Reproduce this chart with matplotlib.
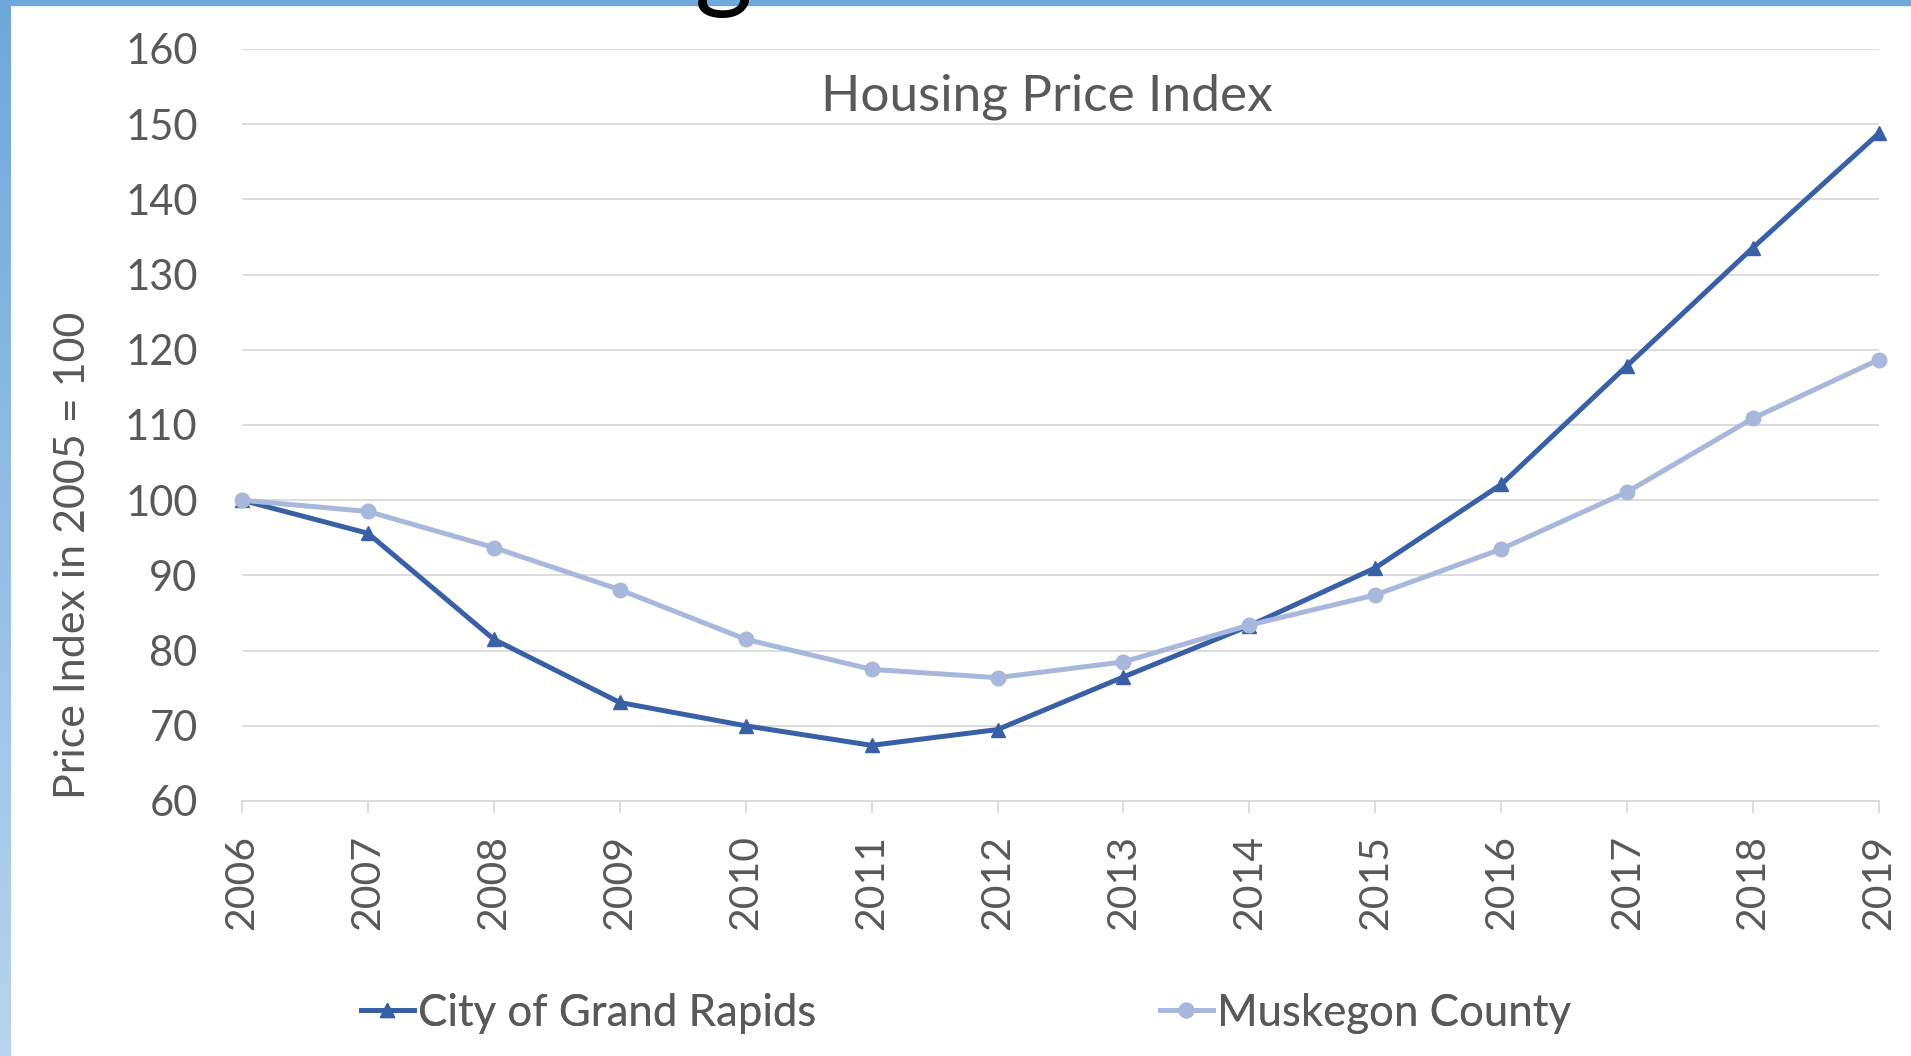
import matplotlib
matplotlib.use("Agg")
import matplotlib.pyplot as plt
import numpy as np

plt.rcParams['font.family'] = ['Lato', 'DejaVu Sans']

years = [2006, 2007, 2008, 2009, 2010, 2011, 2012, 2013, 2014, 2015, 2016, 2017, 2018, 2019]
grand_rapids = [100.0, 95.6, 81.5, 73.1, 70.0, 67.4, 69.5, 76.5, 83.3, 91.0, 102.1, 117.9, 133.6, 148.8]
muskegon = [100.0, 98.5, 93.7, 88.1, 81.5, 77.5, 76.4, 78.5, 83.4, 87.4, 93.5, 101.1, 110.9, 118.7]
yticks = [60, 70, 80, 90, 100, 110, 120, 130, 140, 150, 160]

W, H = 1911, 1056
fig = plt.figure(figsize=(W / 100, H / 100), dpi=100)
fig.patch.set_facecolor('white')

# slide decorations: top bar and left gradient strip
fig.patches.append(plt.Rectangle((0, 1 - 5 / H), 1, 5 / H, transform=fig.transFigure,
                                 color='#6fa8dc', zorder=0))
gax = fig.add_axes([0, 0, 11 / W, 1 - 5 / H])
top = np.array([0x6e, 0xa8, 0xdb]) / 255
bot = np.array([0xb8, 0xd4, 0xee]) / 255
t = np.linspace(0, 1, 256)[:, None]
grad = (top[None, :] * (1 - t) + bot[None, :] * t)[:, None, :]
gax.imshow(grad, aspect='auto', extent=[0, 1, 0, 1])
gax.axis('off')

# cut-off slide title (only its lowest edge is visible)
fig.text(877 / W, 1 + 2 / H, "Grand Rapids and Muskegon", ha='right', va='baseline',
         fontsize=80, color='black')

ax = fig.add_axes([242 / W, 1 - 801 / H, (1879 - 242) / W, (801 - 49) / H])
text_color = '#595959'
grid_color = '#d9d9d9'

ax.plot(years, grand_rapids, color='#3960a6', lw=3.6, marker='^', markersize=10.5,
        label='City of Grand Rapids', zorder=3, clip_on=False)
ax.plot(years, muskegon, color='#a8b7dc', lw=3.6, marker='o', markersize=10.5,
        label='Muskegon County', zorder=4, clip_on=False)

ax.set_xlim(years[0], years[-1])
ax.set_ylim(yticks[0], yticks[-1])
ax.set_yticks(yticks)
ax.set_xticks(years)
ax.set_xticklabels([str(y) for y in years], rotation=90)
ax.yaxis.grid(True, color=grid_color, lw=1.3)
ax.set_axisbelow(True)
for s in ['left', 'right', 'top']:
    ax.spines[s].set_visible(False)
ax.spines['bottom'].set_color(grid_color)
ax.spines['bottom'].set_linewidth(1.3)
ax.tick_params(axis='y', length=0, pad=32, labelsize=30, labelcolor=text_color)
ax.tick_params(axis='x', length=8.6, width=1.3, color=grid_color, pad=16,
               labelsize=29.5, labelcolor=text_color)

fig.text(1047 / W, 1 - 97 / H, "Housing Price Index", ha='center', va='center',
         fontsize=37, color=text_color)
fig.text(73 / W, 1 - 555 / H, "Price Index in 2005 = 100", rotation=90,
         ha='center', va='center', fontsize=31, color=text_color)

h1, h2 = ax.get_lines()
for h, x0 in [(h1, 361), (h2, 1160)]:
    leg = fig.legend([h], [h.get_label()], loc='center left',
                     bbox_to_anchor=(x0 / W, 1 - 1013 / H), frameon=False,
                     fontsize=31.5, handlelength=1.2, handletextpad=0.1,
                     borderaxespad=0, borderpad=0, labelcolor=text_color)
    fig.add_artist(leg)

fig.savefig('out.png', dpi=100)
